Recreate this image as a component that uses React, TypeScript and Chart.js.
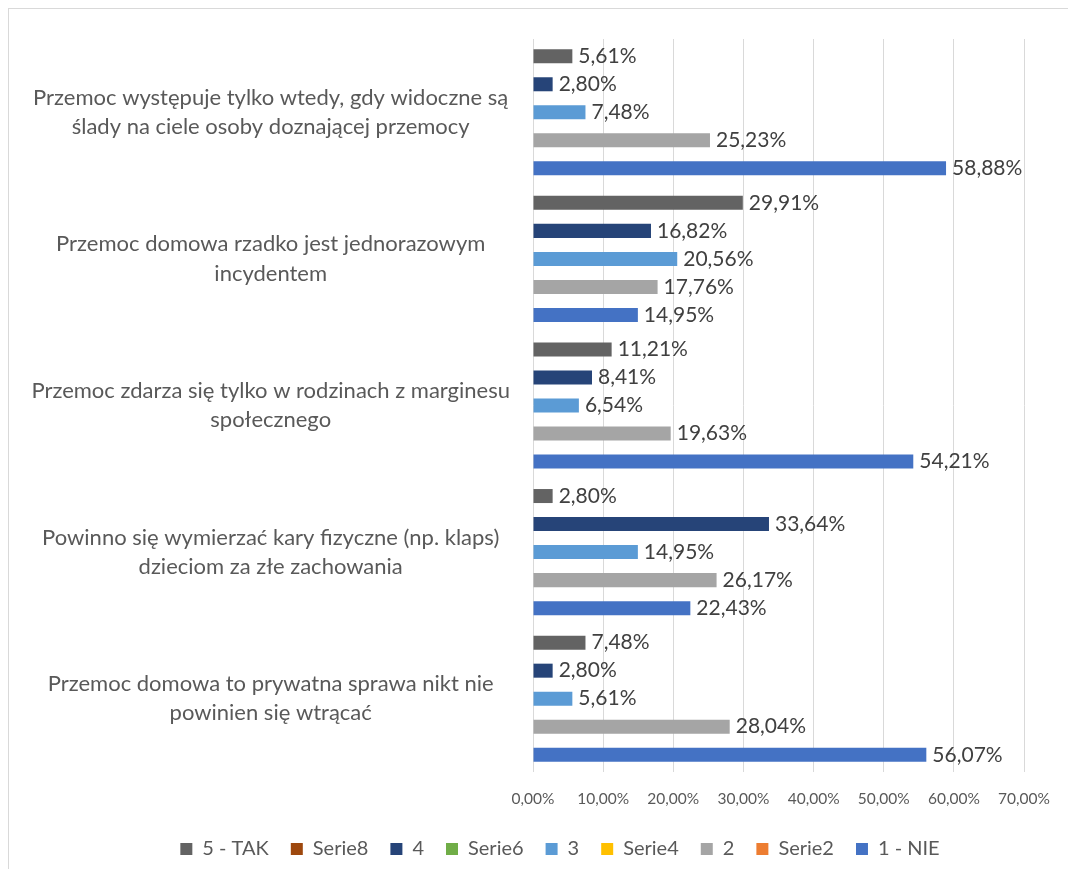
import React, { useEffect, useRef } from "react";
import { Chart, registerables } from "chart.js";

Chart.register(...registerables);

const categories: string[][] = [
  ["Przemoc występuje tylko wtedy, gdy widoczne są", "ślady na ciele osoby doznającej przemocy"],
  ["Przemoc domowa rzadko jest jednorazowym", "incydentem"],
  ["Przemoc zdarza się tylko w rodzinach z marginesu", "społecznego"],
  ["Powinno się wymierzać kary fizyczne (np. klaps)", "dzieciom za złe zachowania"],
  ["Przemoc domowa to prywatna sprawa nikt nie", "powinien się wtrącać"],
];

const seriesNames = ["5 - TAK", "Serie8", "4", "Serie6", "3", "Serie4", "2", "Serie2", "1 - NIE"];
const seriesColors = ["#636363", "#9E480E", "#264478", "#70AD47", "#5B9BD5", "#FFC000", "#A5A5A5", "#ED7D31", "#4472C4"];

const tak5: (number | null)[] = [5.61, 29.91, 11.21, 2.8, 7.48];
const serie8: (number | null)[] = [null, null, null, null, null];
const val4: (number | null)[] = [2.8, 16.82, 8.41, 33.64, 2.8];
const serie6: (number | null)[] = [null, null, null, null, null];
const val3: (number | null)[] = [7.48, 20.56, 6.54, 14.95, 5.61];
const serie4: (number | null)[] = [null, null, null, null, null];
const val2: (number | null)[] = [25.23, 17.76, 19.63, 26.17, 28.04];
const serie2: (number | null)[] = [null, null, null, null, null];
const nie1: (number | null)[] = [58.88, 14.95, 54.21, 22.43, 56.07];

const seriesValues = [tak5, serie8, val4, serie6, val3, serie4, val2, serie2, nie1];

const xMin = 0;
const xMax = 70;
const xStep = 10;

const FONT = "Lato, 'Liberation Sans', sans-serif";

const fmt = (v: number) => v.toFixed(2).replace(".", ",") + "%";

const labelPlugin = {
  id: "barLabels",
  afterDatasetsDraw(chart: any) {
    const ctx = chart.ctx;
    ctx.save();
    ctx.font = `21px ${FONT}`;
    ctx.fillStyle = "#404040";
    ctx.textAlign = "left";
    ctx.textBaseline = "middle";
    chart.data.datasets.forEach((ds: any, i: number) => {
      const meta = chart.getDatasetMeta(i);
      meta.data.forEach((el: any, j: number) => {
        const v = ds.data[j];
        if (v === null || v === undefined) return;
        ctx.fillText(fmt(v), el.x + 6, el.y);
      });
    });
    ctx.restore();
  },
};

const PAD_LEFT = 20;
const PAD_RIGHT = -23;
const PLOT_LEFT = 524;
const PLOT_RIGHT = 1022;
const CANVAS_W = 1059;
const CANVAS_H = 860;

export default function App() {
  const ref = useRef<HTMLCanvasElement | null>(null);

  useEffect(() => {
    if (!ref.current) return;
    const chart = new Chart(ref.current, {
      type: "bar",
      data: {
        labels: categories,
        datasets: seriesNames.map((name, i) => ({
          label: name,
          data: seriesValues[i],
          backgroundColor: seriesColors[i],
          borderWidth: 0,
          skipNull: true,
          categoryPercentage: 0.956,
          barPercentage: 0.5,
        })) as any,
      },
      options: {
        indexAxis: "y",
        responsive: false,
        animation: false,
        layout: { padding: { top: 30, right: PAD_RIGHT, bottom: 0, left: PAD_LEFT } },
        plugins: {
          legend: {
            position: "bottom",
            labels: {
              boxWidth: 12,
              boxHeight: 12,
              padding: 22,
              color: "#595959",
              font: { family: FONT, size: 20 },
            },
          },
          tooltip: { enabled: false },
        },
        scales: {
          x: {
            min: xMin,
            max: xMax,
            ticks: {
              stepSize: xStep,
              color: "#595959",
              font: { family: FONT, size: 15.5 },
              padding: 18,
              maxRotation: 0,
              callback: (v: any) => fmt(Number(v)),
            },
            grid: { color: "#d9d9d9", drawTicks: false, lineWidth: 1 },
            border: { display: false },
            afterFit: (s: any) => {
              s.height = 45;
            },
          },
          y: {
            ticks: {
              color: "#595959",
              font: { family: FONT, size: 22, lineHeight: 1.32 },
              crossAlign: "center",
              padding: 23,
            },
            grid: { display: false, drawTicks: false },
            border: { display: false },
            afterFit: (s: any) => {
              s.width = PLOT_LEFT - PAD_LEFT;
              s.paddingTop = 0;
              s.paddingBottom = 0;
            },
          },
          ySpacer: {
            type: "linear",
            axis: "y",
            position: "right",
            display: true,
            ticks: { display: false },
            grid: { display: false, drawTicks: false },
            border: { display: false },
            afterFit: (s: any) => {
              s.width = CANVAS_W - PAD_RIGHT - PLOT_RIGHT;
              s.paddingTop = 0;
              s.paddingBottom = 0;
            },
          },
        },
      } as any,
      plugins: [labelPlugin],
    });
    return () => chart.destroy();
  }, []);

  return (
    <div
      style={{
        width: CANVAS_W,
        height: CANVAS_H,
        borderLeft: "1px solid #d9d9d9",
        borderTop: "1px solid #d9d9d9",
        background: "#fff",
      }}
    >
      <canvas ref={ref} width={CANVAS_W} height={CANVAS_H} style={{ display: "block" }} />
    </div>
  );
}
